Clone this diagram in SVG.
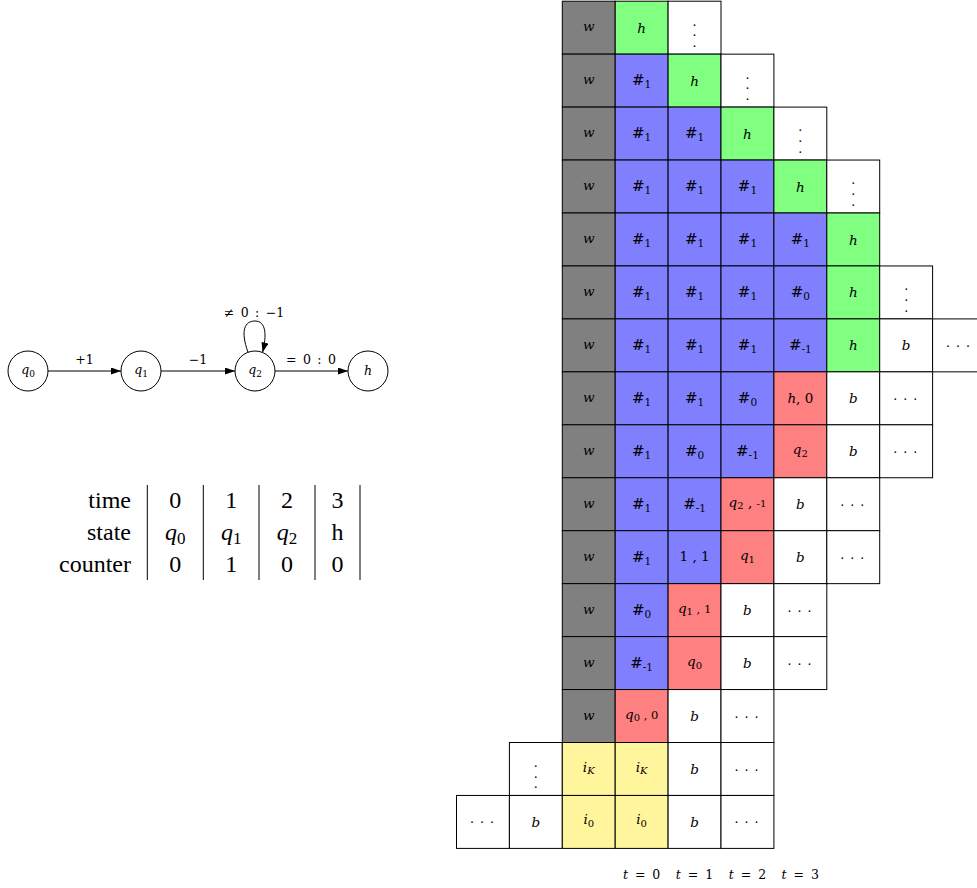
<svg xmlns="http://www.w3.org/2000/svg" width="977" height="888" viewBox="0 0 977 888">
<style>
text{font-family:"DejaVu Serif","Liberation Serif",serif;fill:#000}
.it{font-style:italic}
.l{font-size:13.5px;text-anchor:middle}
.hx{font-size:15px}
.sb{font-size:10px}
.hx .sb{font-size:10.5px}
.dt{font-family:"Liberation Serif",serif;font-size:14px;text-anchor:middle}
#grid rect{stroke:#000;stroke-width:1}
.gray{fill:#808080}.green{fill:#80ff80}.blue{fill:#8080ff}.red{fill:#ff8080}.yel{fill:#fff59d}.wh{fill:#fff}
.node circle{fill:#fff;stroke:#000;stroke-width:1}
.a{font-size:12.5px;text-anchor:middle}
.e{fill:none;stroke:#000;stroke-width:1;marker-end:url(#ah)}
.tb{font-family:"Liberation Serif",serif;font-size:24px}
.tr{text-anchor:end}
.tc{text-anchor:middle}
.vl{stroke:#000;stroke-width:1}
.tl{font-size:12.5px;text-anchor:middle;word-spacing:3px}
</style>
<defs>
<marker id="ah" viewBox="0 0 10 7" refX="10" refY="3.5" markerWidth="10" markerHeight="7" markerUnits="userSpaceOnUse" orient="auto"><path d="M0,0 L10,3.5 L0,7 z" fill="#000"/></marker>
</defs>

<g id="automaton">
<g id="q0" class="node"><circle cx="28" cy="371" r="20"/><text class="a" x="28" y="374"><tspan class="it">q</tspan><tspan font-size="9" dy="2.5">0</tspan></text></g>
<g id="q1" class="node"><circle cx="141" cy="371" r="20"/><text class="a" x="141" y="374"><tspan class="it">q</tspan><tspan font-size="9" dy="2.5">1</tspan></text></g>
<g id="q2" class="node"><circle cx="255" cy="371" r="20"/><text class="a" x="255" y="374"><tspan class="it">q</tspan><tspan font-size="9" dy="2.5">2</tspan></text></g>
<g id="h" class="node"><circle cx="368" cy="371" r="20"/><text class="a it" x="368" y="375">h</text></g>
<g id="edges">
<path class="e" d="M48,371 H121"/>
<path class="e" d="M161,371 H235"/>
<path class="e" d="M275,371 H348"/>
<path class="e" d="M248,352.3 C240,330 245,321 255,321 C266,321 267,335 262.5,352.5"/>
<text class="a" x="84.5" y="364">+1</text>
<text class="a" x="198" y="364">−1</text>
<text class="a" x="311" y="364" word-spacing="2.5">= 0 : 0</text>
<text class="a" x="254" y="317" word-spacing="2.5">≠ 0 : −1</text>
</g>
</g>

<g id="table">
<text class="tb tr" x="131" y="508">time</text>
<text class="tb tr" x="131" y="540">state</text>
<text class="tb tr" x="131" y="572">counter</text>
<text class="tb tc" x="175.3" y="508">0</text>
<text class="tb tc" x="231.2" y="508">1</text>
<text class="tb tc" x="287" y="508">2</text>
<text class="tb tc" x="337.5" y="508">3</text>
<text class="tb tc" x="175.3" y="540"><tspan class="it">q</tspan><tspan font-size="17" dy="4">0</tspan></text>
<text class="tb tc" x="231.2" y="540"><tspan class="it">q</tspan><tspan font-size="17" dy="4">1</tspan></text>
<text class="tb tc" x="287" y="540"><tspan class="it">q</tspan><tspan font-size="17" dy="4">2</tspan></text>
<text class="tb tc" x="337.5" y="540">h</text>
<text class="tb tc" x="175.3" y="572">0</text>
<text class="tb tc" x="231.2" y="572">1</text>
<text class="tb tc" x="287" y="572">0</text>
<text class="tb tc" x="337.5" y="572">0</text>
<path class="vl" d="M147.3,485 V580 M203.3,485 V580 M259,485 V580 M315,485 V580 M360,485 V580"/>
</g>

<g id="grid">
<g id="r0c0" transform="translate(562.3,1.2)"><rect class="gray" width="52.9" height="52.95"/><text class="l it" x="26.45" y="30">w</text></g>
<g id="r0c1" transform="translate(615.2,1.2)"><rect class="green" width="52.9" height="52.95"/><text class="l it" x="26.45" y="31.5">h</text></g>
<g id="r0c2" transform="translate(668.1,1.2)"><rect class="wh" width="52.9" height="52.95"/><text class="dt" x="26.45 26.45 26.45" y="24.4 35 45.6">...</text></g>

<g id="r1c0" transform="translate(562.3,54.15)"><rect class="gray" width="52.9" height="52.95"/><text class="l it" x="26.45" y="30">w</text></g>
<g id="r1c1" transform="translate(615.2,54.15)"><rect class="blue" width="52.9" height="52.95"/><text class="l hx" x="26.45" y="31">#<tspan class="sb" dy="3">1</tspan></text></g>
<g id="r1c2" transform="translate(668.1,54.15)"><rect class="green" width="52.9" height="52.95"/><text class="l it" x="26.45" y="31.5">h</text></g>
<g id="r1c3" transform="translate(721,54.15)"><rect class="wh" width="52.9" height="52.95"/><text class="dt" x="26.45 26.45 26.45" y="24.4 35 45.6">...</text></g>

<g id="r2c0" transform="translate(562.3,107.1)"><rect class="gray" width="52.9" height="52.95"/><text class="l it" x="26.45" y="30">w</text></g>
<g id="r2c1" transform="translate(615.2,107.1)"><rect class="blue" width="52.9" height="52.95"/><text class="l hx" x="26.45" y="31">#<tspan class="sb" dy="3">1</tspan></text></g>
<g id="r2c2" transform="translate(668.1,107.1)"><rect class="blue" width="52.9" height="52.95"/><text class="l hx" x="26.45" y="31">#<tspan class="sb" dy="3">1</tspan></text></g>
<g id="r2c3" transform="translate(721,107.1)"><rect class="green" width="52.9" height="52.95"/><text class="l it" x="26.45" y="31.5">h</text></g>
<g id="r2c4" transform="translate(773.9,107.1)"><rect class="wh" width="52.9" height="52.95"/><text class="dt" x="26.45 26.45 26.45" y="24.4 35 45.6">...</text></g>

<g id="r3c0" transform="translate(562.3,160.05)"><rect class="gray" width="52.9" height="52.95"/><text class="l it" x="26.45" y="30">w</text></g>
<g id="r3c1" transform="translate(615.2,160.05)"><rect class="blue" width="52.9" height="52.95"/><text class="l hx" x="26.45" y="31">#<tspan class="sb" dy="3">1</tspan></text></g>
<g id="r3c2" transform="translate(668.1,160.05)"><rect class="blue" width="52.9" height="52.95"/><text class="l hx" x="26.45" y="31">#<tspan class="sb" dy="3">1</tspan></text></g>
<g id="r3c3" transform="translate(721,160.05)"><rect class="blue" width="52.9" height="52.95"/><text class="l hx" x="26.45" y="31">#<tspan class="sb" dy="3">1</tspan></text></g>
<g id="r3c4" transform="translate(773.9,160.05)"><rect class="green" width="52.9" height="52.95"/><text class="l it" x="26.45" y="31.5">h</text></g>
<g id="r3c5" transform="translate(826.8,160.05)"><rect class="wh" width="52.9" height="52.95"/><text class="dt" x="26.45 26.45 26.45" y="24.4 35 45.6">...</text></g>

<g id="r4c0" transform="translate(562.3,213)"><rect class="gray" width="52.9" height="52.95"/><text class="l it" x="26.45" y="30">w</text></g>
<g id="r4c1" transform="translate(615.2,213)"><rect class="blue" width="52.9" height="52.95"/><text class="l hx" x="26.45" y="31">#<tspan class="sb" dy="3">1</tspan></text></g>
<g id="r4c2" transform="translate(668.1,213)"><rect class="blue" width="52.9" height="52.95"/><text class="l hx" x="26.45" y="31">#<tspan class="sb" dy="3">1</tspan></text></g>
<g id="r4c3" transform="translate(721,213)"><rect class="blue" width="52.9" height="52.95"/><text class="l hx" x="26.45" y="31">#<tspan class="sb" dy="3">1</tspan></text></g>
<g id="r4c4" transform="translate(773.9,213)"><rect class="blue" width="52.9" height="52.95"/><text class="l hx" x="26.45" y="31">#<tspan class="sb" dy="3">1</tspan></text></g>
<g id="r4c5" transform="translate(826.8,213)"><rect class="green" width="52.9" height="52.95"/><text class="l it" x="26.45" y="31.5">h</text></g>

<g id="r5c0" transform="translate(562.3,265.95)"><rect class="gray" width="52.9" height="52.95"/><text class="l it" x="26.45" y="30">w</text></g>
<g id="r5c1" transform="translate(615.2,265.95)"><rect class="blue" width="52.9" height="52.95"/><text class="l hx" x="26.45" y="31">#<tspan class="sb" dy="3">1</tspan></text></g>
<g id="r5c2" transform="translate(668.1,265.95)"><rect class="blue" width="52.9" height="52.95"/><text class="l hx" x="26.45" y="31">#<tspan class="sb" dy="3">1</tspan></text></g>
<g id="r5c3" transform="translate(721,265.95)"><rect class="blue" width="52.9" height="52.95"/><text class="l hx" x="26.45" y="31">#<tspan class="sb" dy="3">1</tspan></text></g>
<g id="r5c4" transform="translate(773.9,265.95)"><rect class="blue" width="52.9" height="52.95"/><text class="l hx" x="26.45" y="31">#<tspan class="sb" dy="3">0</tspan></text></g>
<g id="r5c5" transform="translate(826.8,265.95)"><rect class="green" width="52.9" height="52.95"/><text class="l it" x="26.45" y="31.5">h</text></g>
<g id="r5c6" transform="translate(879.7,265.95)"><rect class="wh" width="52.9" height="52.95"/><text class="dt" x="26.45 26.45 26.45" y="24.4 35 45.6">...</text></g>

<g id="r6c0" transform="translate(562.3,318.9)"><rect class="gray" width="52.9" height="52.95"/><text class="l it" x="26.45" y="30">w</text></g>
<g id="r6c1" transform="translate(615.2,318.9)"><rect class="blue" width="52.9" height="52.95"/><text class="l hx" x="26.45" y="31">#<tspan class="sb" dy="3">1</tspan></text></g>
<g id="r6c2" transform="translate(668.1,318.9)"><rect class="blue" width="52.9" height="52.95"/><text class="l hx" x="26.45" y="31">#<tspan class="sb" dy="3">1</tspan></text></g>
<g id="r6c3" transform="translate(721,318.9)"><rect class="blue" width="52.9" height="52.95"/><text class="l hx" x="26.45" y="31">#<tspan class="sb" dy="3">1</tspan></text></g>
<g id="r6c4" transform="translate(773.9,318.9)"><rect class="blue" width="52.9" height="52.95"/><text class="l hx" x="26.45" y="31">#<tspan class="sb" dy="3">-1</tspan></text></g>
<g id="r6c5" transform="translate(826.8,318.9)"><rect class="green" width="52.9" height="52.95"/><text class="l it" x="26.45" y="31.5">h</text></g>
<g id="r6c6" transform="translate(879.7,318.9)"><rect class="wh" width="52.9" height="52.95"/><text class="l it" x="26.45" y="31.5">b</text></g>
<g id="r6c7" transform="translate(932.6,318.9)"><rect class="wh" width="52.9" height="52.95"/><text class="dt" x="15.5 25.5 35.5" y="28 28 28">...</text></g>

<g id="r7c0" transform="translate(562.3,371.85)"><rect class="gray" width="52.9" height="52.95"/><text class="l it" x="26.45" y="30">w</text></g>
<g id="r7c1" transform="translate(615.2,371.85)"><rect class="blue" width="52.9" height="52.95"/><text class="l hx" x="26.45" y="31">#<tspan class="sb" dy="3">1</tspan></text></g>
<g id="r7c2" transform="translate(668.1,371.85)"><rect class="blue" width="52.9" height="52.95"/><text class="l hx" x="26.45" y="31">#<tspan class="sb" dy="3">1</tspan></text></g>
<g id="r7c3" transform="translate(721,371.85)"><rect class="blue" width="52.9" height="52.95"/><text class="l hx" x="26.45" y="31">#<tspan class="sb" dy="3">0</tspan></text></g>
<g id="r7c4" transform="translate(773.9,371.85)"><rect class="red" width="52.9" height="52.95"/><text class="l" x="26.45" y="31"><tspan class="it">h</tspan>, 0</text></g>
<g id="r7c5" transform="translate(826.8,371.85)"><rect class="wh" width="52.9" height="52.95"/><text class="l it" x="26.45" y="31.5">b</text></g>
<g id="r7c6" transform="translate(879.7,371.85)"><rect class="wh" width="52.9" height="52.95"/><text class="dt" x="15.5 25.5 35.5" y="28 28 28">...</text></g>

<g id="r8c0" transform="translate(562.3,424.8)"><rect class="gray" width="52.9" height="52.95"/><text class="l it" x="26.45" y="30">w</text></g>
<g id="r8c1" transform="translate(615.2,424.8)"><rect class="blue" width="52.9" height="52.95"/><text class="l hx" x="26.45" y="31">#<tspan class="sb" dy="3">1</tspan></text></g>
<g id="r8c2" transform="translate(668.1,424.8)"><rect class="blue" width="52.9" height="52.95"/><text class="l hx" x="26.45" y="31">#<tspan class="sb" dy="3">0</tspan></text></g>
<g id="r8c3" transform="translate(721,424.8)"><rect class="blue" width="52.9" height="52.95"/><text class="l hx" x="26.45" y="31">#<tspan class="sb" dy="3">-1</tspan></text></g>
<g id="r8c4" transform="translate(773.9,424.8)"><rect class="red" width="52.9" height="52.95"/><text class="l" x="26.45" y="29.5"><tspan class="it">q</tspan><tspan class="sb" dy="2.5">2</tspan></text></g>
<g id="r8c5" transform="translate(826.8,424.8)"><rect class="wh" width="52.9" height="52.95"/><text class="l it" x="26.45" y="31.5">b</text></g>
<g id="r8c6" transform="translate(879.7,424.8)"><rect class="wh" width="52.9" height="52.95"/><text class="dt" x="15.5 25.5 35.5" y="28 28 28">...</text></g>

<g id="r9c0" transform="translate(562.3,477.75)"><rect class="gray" width="52.9" height="52.95"/><text class="l it" x="26.45" y="30">w</text></g>
<g id="r9c1" transform="translate(615.2,477.75)"><rect class="blue" width="52.9" height="52.95"/><text class="l hx" x="26.45" y="31">#<tspan class="sb" dy="3">1</tspan></text></g>
<g id="r9c2" transform="translate(668.1,477.75)"><rect class="blue" width="52.9" height="52.95"/><text class="l hx" x="26.45" y="31">#<tspan class="sb" dy="3">-1</tspan></text></g>
<g id="r9c3" transform="translate(721,477.75)"><rect class="red" width="52.9" height="52.95"/><text class="l" x="26.45" y="29"><tspan class="it">q</tspan><tspan class="sb" dy="2.5">2</tspan><tspan dy="-2.5"> , </tspan><tspan class="sb">-1</tspan></text></g>
<g id="r9c4" transform="translate(773.9,477.75)"><rect class="wh" width="52.9" height="52.95"/><text class="l it" x="26.45" y="31.5">b</text></g>
<g id="r9c5" transform="translate(826.8,477.75)"><rect class="wh" width="52.9" height="52.95"/><text class="dt" x="15.5 25.5 35.5" y="28 28 28">...</text></g>

<g id="r10c0" transform="translate(562.3,530.7)"><rect class="gray" width="52.9" height="52.95"/><text class="l it" x="26.45" y="30">w</text></g>
<g id="r10c1" transform="translate(615.2,530.7)"><rect class="blue" width="52.9" height="52.95"/><text class="l hx" x="26.45" y="31">#<tspan class="sb" dy="3">1</tspan></text></g>
<g id="r10c2" transform="translate(668.1,530.7)"><rect class="blue" width="52.9" height="52.95"/><text class="l" x="26.45" y="30" font-size="11.5">1 , 1</text></g>
<g id="r10c3" transform="translate(721,530.7)"><rect class="red" width="52.9" height="52.95"/><text class="l" x="26.45" y="29.5"><tspan class="it">q</tspan><tspan class="sb" dy="2.5">1</tspan></text></g>
<g id="r10c4" transform="translate(773.9,530.7)"><rect class="wh" width="52.9" height="52.95"/><text class="l it" x="26.45" y="31.5">b</text></g>
<g id="r10c5" transform="translate(826.8,530.7)"><rect class="wh" width="52.9" height="52.95"/><text class="dt" x="15.5 25.5 35.5" y="28 28 28">...</text></g>

<g id="r11c0" transform="translate(562.3,583.65)"><rect class="gray" width="52.9" height="52.95"/><text class="l it" x="26.45" y="30">w</text></g>
<g id="r11c1" transform="translate(615.2,583.65)"><rect class="blue" width="52.9" height="52.95"/><text class="l hx" x="26.45" y="31">#<tspan class="sb" dy="3">0</tspan></text></g>
<g id="r11c2" transform="translate(668.1,583.65)"><rect class="red" width="52.9" height="52.95"/><text class="l" x="26.45" y="29"><tspan class="it">q</tspan><tspan class="sb" dy="2.5">1</tspan><tspan dy="-2.5" font-size="11.5"> , 1</tspan></text></g>
<g id="r11c3" transform="translate(721,583.65)"><rect class="wh" width="52.9" height="52.95"/><text class="l it" x="26.45" y="31.5">b</text></g>
<g id="r11c4" transform="translate(773.9,583.65)"><rect class="wh" width="52.9" height="52.95"/><text class="dt" x="15.5 25.5 35.5" y="28 28 28">...</text></g>

<g id="r12c0" transform="translate(562.3,636.6)"><rect class="gray" width="52.9" height="52.95"/><text class="l it" x="26.45" y="30">w</text></g>
<g id="r12c1" transform="translate(615.2,636.6)"><rect class="blue" width="52.9" height="52.95"/><text class="l hx" x="26.45" y="31">#<tspan class="sb" dy="3">-1</tspan></text></g>
<g id="r12c2" transform="translate(668.1,636.6)"><rect class="red" width="52.9" height="52.95"/><text class="l" x="26.45" y="29.5"><tspan class="it">q</tspan><tspan class="sb" dy="2.5">0</tspan></text></g>
<g id="r12c3" transform="translate(721,636.6)"><rect class="wh" width="52.9" height="52.95"/><text class="l it" x="26.45" y="31.5">b</text></g>
<g id="r12c4" transform="translate(773.9,636.6)"><rect class="wh" width="52.9" height="52.95"/><text class="dt" x="15.5 25.5 35.5" y="28 28 28">...</text></g>

<g id="r13c0" transform="translate(562.3,689.55)"><rect class="gray" width="52.9" height="52.95"/><text class="l it" x="26.45" y="30">w</text></g>
<g id="r13c1" transform="translate(615.2,689.55)"><rect class="red" width="52.9" height="52.95"/><text class="l" x="26.45" y="29"><tspan class="it">q</tspan><tspan class="sb" dy="2.5">0</tspan><tspan dy="-2.5" font-size="11.5"> , 0</tspan></text></g>
<g id="r13c2" transform="translate(668.1,689.55)"><rect class="wh" width="52.9" height="52.95"/><text class="l it" x="26.45" y="31.5">b</text></g>
<g id="r13c3" transform="translate(721,689.55)"><rect class="wh" width="52.9" height="52.95"/><text class="dt" x="15.5 25.5 35.5" y="28 28 28">...</text></g>

<g id="r14cm1" transform="translate(509.4,742.5)"><rect class="wh" width="52.9" height="52.95"/><text class="dt" x="26.45 26.45 26.45" y="24.4 35 45.6">...</text></g>
<g id="r14c0" transform="translate(562.3,742.5)"><rect class="yel" width="52.9" height="52.95"/><text class="l" x="26.45" y="29"><tspan class="it">i</tspan><tspan class="sb it" dy="2.5">K</tspan></text></g>
<g id="r14c1" transform="translate(615.2,742.5)"><rect class="yel" width="52.9" height="52.95"/><text class="l" x="26.45" y="29"><tspan class="it">i</tspan><tspan class="sb it" dy="2.5">K</tspan></text></g>
<g id="r14c2" transform="translate(668.1,742.5)"><rect class="wh" width="52.9" height="52.95"/><text class="l it" x="26.45" y="31.5">b</text></g>
<g id="r14c3" transform="translate(721,742.5)"><rect class="wh" width="52.9" height="52.95"/><text class="dt" x="15.5 25.5 35.5" y="28 28 28">...</text></g>

<g id="r15cm2" transform="translate(456.5,795.45)"><rect class="wh" width="52.9" height="52.95"/><text class="dt" x="15.5 25.5 35.5" y="28 28 28">...</text></g>
<g id="r15cm1" transform="translate(509.4,795.45)"><rect class="wh" width="52.9" height="52.95"/><text class="l it" x="26.45" y="31.5">b</text></g>
<g id="r15c0" transform="translate(562.3,795.45)"><rect class="yel" width="52.9" height="52.95"/><text class="l" x="26.45" y="29"><tspan class="it">i</tspan><tspan class="sb" dy="2.5">0</tspan></text></g>
<g id="r15c1" transform="translate(615.2,795.45)"><rect class="yel" width="52.9" height="52.95"/><text class="l" x="26.45" y="29"><tspan class="it">i</tspan><tspan class="sb" dy="2.5">0</tspan></text></g>
<g id="r15c2" transform="translate(668.1,795.45)"><rect class="wh" width="52.9" height="52.95"/><text class="l it" x="26.45" y="31.5">b</text></g>
<g id="r15c3" transform="translate(721,795.45)"><rect class="wh" width="52.9" height="52.95"/><text class="dt" x="15.5 25.5 35.5" y="28 28 28">...</text></g>
</g>

<g id="timelabels">
<text class="tl" x="641.6" y="879"><tspan class="it">t</tspan> = 0</text>
<text class="tl" x="694.5" y="879"><tspan class="it">t</tspan> = 1</text>
<text class="tl" x="747.4" y="879"><tspan class="it">t</tspan> = 2</text>
<text class="tl" x="800.3" y="879"><tspan class="it">t</tspan> = 3</text>
</g>
</svg>
